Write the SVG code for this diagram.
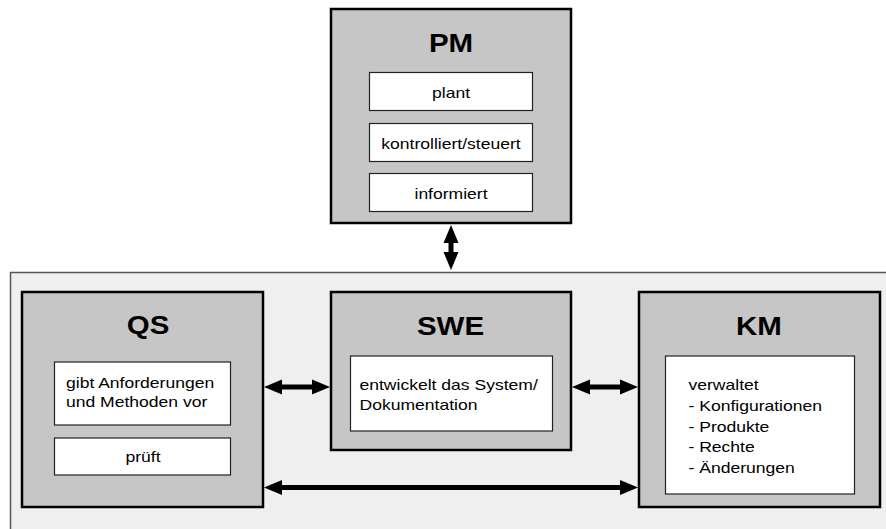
<svg xmlns="http://www.w3.org/2000/svg" width="886" height="529" viewBox="0 0 886 529">
<defs>
<style>
.panel{fill:#efefef;stroke:#555;stroke-width:1.5}
.box{fill:#c6c6c6;stroke:#000;stroke-width:2.5}
.inner{fill:#fff;stroke:#222;stroke-width:1.2}
.lbl{font-family:"Liberation Sans",Arial,sans-serif;font-weight:bold;font-size:25px;fill:#000;text-anchor:middle}
.t{font-family:"Liberation Sans",Arial,sans-serif;font-size:14.5px;fill:#000}
.c{text-anchor:middle}
.conn{stroke:#000;stroke-width:5;fill:none;marker-start:url(#ah);marker-end:url(#ah)}
</style>
<marker id="ah" markerUnits="userSpaceOnUse" markerWidth="18" markerHeight="15" refX="1" refY="7.5" orient="auto-start-reverse" overflow="visible">
<path d="M0,0 L18,7.5 L0,15 Z" fill="#000"/>
</marker>
</defs>
<rect fill="#fff" x="0" y="0" width="886" height="529"/>
<rect class="panel" x="10.5" y="272.5" width="900" height="300"/>

<g id="PM">
<rect class="box" x="331" y="9" width="240" height="214"/>
<text class="lbl" transform="translate(451,52) scale(1.18,1)">PM</text>
<rect class="inner" x="369.5" y="72.5" width="163" height="38"/>
<text class="t c" transform="translate(451,97.5) scale(1.21,1)">plant</text>
<rect class="inner" x="369.5" y="123.5" width="163" height="38"/>
<text class="t c" transform="translate(451,148.5) scale(1.21,1)">kontrolliert/steuert</text>
<rect class="inner" x="369.5" y="173.5" width="163" height="38"/>
<text class="t c" transform="translate(451,198.5) scale(1.21,1)">informiert</text>
</g>

<g id="QS">
<rect class="box" x="22" y="292" width="241" height="215"/>
<text class="lbl" transform="translate(148,334) scale(1.18,1)">QS</text>
<rect class="inner" x="54.5" y="362" width="176" height="63"/>
<text class="t" transform="translate(66,387.5) scale(1.21,1)">gibt Anforderungen</text>
<text class="t" transform="translate(66,406.5) scale(1.21,1)">und Methoden vor</text>
<rect class="inner" x="54.5" y="438" width="176" height="37"/>
<text class="t c" transform="translate(143,462) scale(1.21,1)">prüft</text>
</g>

<g id="SWE">
<rect class="box" x="331" y="292" width="240" height="158"/>
<text class="lbl" transform="translate(450.5,335) scale(1.18,1)">SWE</text>
<rect class="inner" x="350.5" y="356" width="202" height="75"/>
<text class="t" transform="translate(359.5,390) scale(1.21,1)">entwickelt das System/</text>
<text class="t" transform="translate(359.5,409.5) scale(1.21,1)">Dokumentation</text>
</g>

<g id="KM">
<rect class="box" x="639" y="292" width="241" height="215"/>
<text class="lbl" transform="translate(759,335) scale(1.18,1)">KM</text>
<rect class="inner" x="665.5" y="356" width="189" height="138"/>
<text class="t" transform="translate(688.5,390) scale(1.21,1)">verwaltet</text>
<text class="t" transform="translate(688.5,410.8) scale(1.21,1)">- Konfigurationen</text>
<text class="t" transform="translate(688.5,431.6) scale(1.21,1)">- Produkte</text>
<text class="t" transform="translate(688.5,452.4) scale(1.21,1)">- Rechte</text>
<text class="t" transform="translate(688.5,473.2) scale(1.21,1)">- Änderungen</text>
</g>

<g id="connectors">
<line class="conn" x1="451" y1="242" x2="451" y2="253"/>
<line class="conn" x1="281" y1="387" x2="313" y2="387"/>
<line class="conn" x1="589" y1="387" x2="621" y2="387"/>
<line class="conn" x1="281" y1="487.5" x2="621" y2="487.5"/>
</g>
</svg>
